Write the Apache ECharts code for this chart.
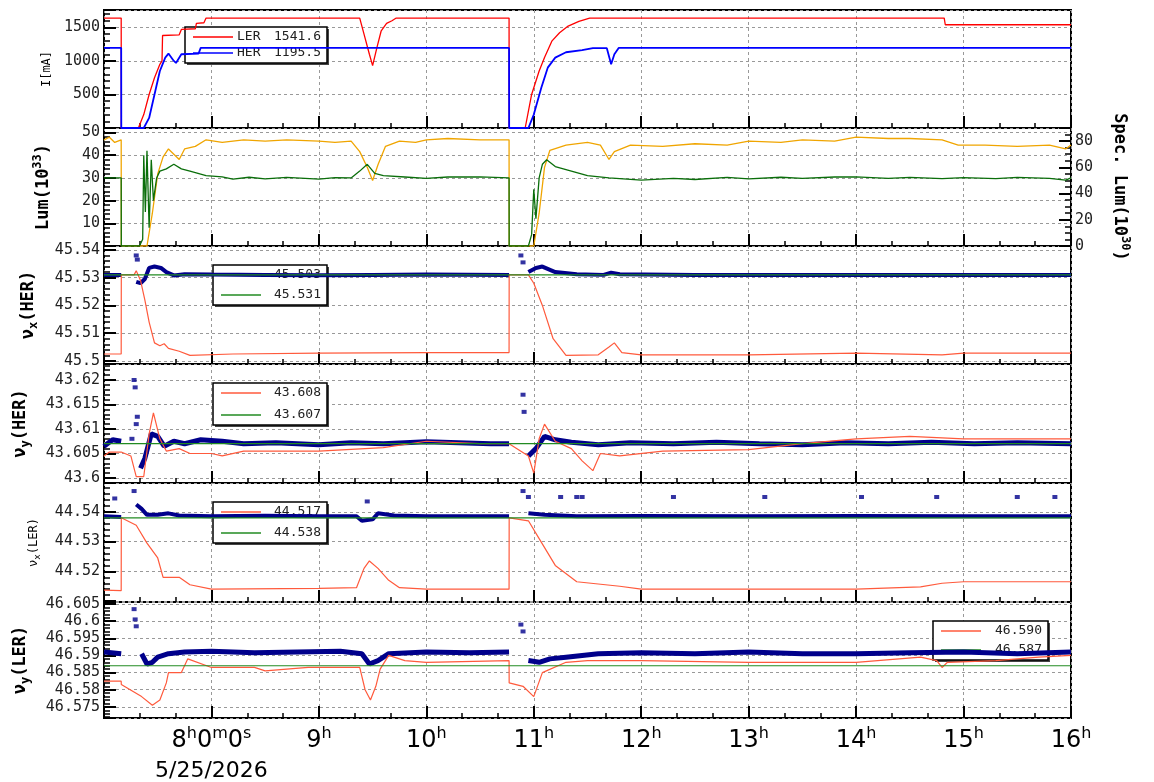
<!DOCTYPE html>
<html><head><meta charset="utf-8">
<script src="https://cdn.jsdelivr.net/npm/echarts@6/dist/echarts.min.js"></script>
<style>html,body{margin:0;padding:0;background:#fff}#c{width:1154px;height:782px}</style>
</head><body><div id="c"></div>
<script>
// ---------- DATA (time in hours, value) ----------
const dateLabel = '5/25/2026';

const lerCurrent = [[7.0,1640],[7.16,1640],[7.161,0],[7.32,0],[7.37,200],[7.42,500],[7.47,750],[7.52,950],[7.54,1000],[7.545,1380],[7.7,1390],[7.72,1470],[7.85,1480],[7.86,1560],[7.93,1570],[7.95,1640],[9.38,1640],[9.42,1400],[9.47,1100],[9.5,930],[9.54,1200],[9.58,1450],[9.63,1560],[9.68,1600],[9.72,1640],[10.77,1640],[10.771,0],[10.92,0],[10.98,500],[11.05,850],[11.1,1050],[11.17,1300],[11.24,1420],[11.32,1520],[11.42,1590],[11.52,1640],[14.82,1640],[14.83,1540],[16,1540]];
const herCurrent = [[7.0,1195],[7.16,1195],[7.161,0],[7.37,0],[7.42,150],[7.47,500],[7.52,850],[7.57,1050],[7.6,1110],[7.65,1000],[7.67,970],[7.72,1100],[7.88,1110],[7.9,1195],[10.77,1195],[10.771,0],[10.95,0],[11.0,200],[11.07,600],[11.13,900],[11.2,1050],[11.3,1130],[11.45,1160],[11.55,1190],[11.68,1190],[11.72,950],[11.75,1100],[11.79,1195],[16,1195]];

const lumGreen = [[7.0,30],[7.16,30],[7.161,0],[7.33,0],[7.36,3],[7.37,40],[7.385,15],[7.4,42],[7.42,8],[7.44,38],[7.46,20],[7.49,30],[7.52,33],[7.58,34],[7.65,36],[7.72,34],[7.8,33],[7.95,31],[8.1,30.5],[8.2,29.5],[8.35,30.3],[8.5,29.6],[8.7,30.2],[9.0,29.5],[9.15,30.1],[9.3,30],[9.38,33],[9.45,36],[9.52,32],[9.6,31],[9.8,30.4],[10.0,29.8],[10.2,30.4],[10.5,30.5],[10.77,30],[10.771,0],[10.95,0],[10.98,5],[11.0,25],[11.02,12],[11.05,30],[11.08,36],[11.12,38],[11.2,35],[11.35,33],[11.5,31],[11.7,30],[12.0,29],[12.3,29.8],[12.5,29.3],[12.8,30.2],[13.0,29.6],[13.3,30.3],[13.5,29.8],[13.8,30.4],[14.0,30.5],[14.3,29.8],[14.5,30.2],[14.8,29.7],[15.0,30.1],[15.3,29.7],[15.5,30.2],[15.8,29.8],[15.95,29],[16,30]];
const specLumOrange = [[7.0,81],[7.05,83],[7.1,79],[7.16,81],[7.161,0],[7.4,0],[7.45,25],[7.5,55],[7.55,68],[7.6,74],[7.65,70],[7.7,66],[7.75,74],[7.85,76],[7.95,81],[8.1,79],[8.3,81],[8.5,80],[8.7,81],[9.0,80],[9.15,79],[9.3,80],[9.38,72],[9.45,60],[9.5,50],[9.55,62],[9.62,76],[9.75,80],[9.9,79],[10.0,81],[10.2,82],[10.5,81],[10.77,81],[10.771,0],[11.0,0],[11.05,25],[11.1,60],[11.15,73],[11.3,77],[11.5,79],[11.62,77],[11.7,66],[11.75,72],[11.9,77],[12.2,76],[12.5,78],[12.8,77],[13.0,80],[13.3,79],[13.5,81],[13.8,80],[14.0,83],[14.3,82],[14.5,82],[14.8,81],[14.95,77],[15.2,77],[15.5,76],[15.8,77],[15.95,74],[16,77]];

const herNuxRed = [[7.0,45.5025],[7.16,45.5025],[7.161,45.531],[7.28,45.531],[7.3,45.5325],[7.34,45.529],[7.38,45.522],[7.42,45.514],[7.47,45.5065],[7.52,45.5055],[7.56,45.5062],[7.6,45.5045],[7.7,45.5035],[7.8,45.502],[8.2,45.5025],[9.0,45.5028],[10.0,45.503],[10.77,45.503],[10.771,45.531],[10.95,45.531],[11.0,45.528],[11.08,45.52],[11.18,45.508],[11.3,45.502],[11.6,45.5022],[11.7,45.505],[11.75,45.5065],[11.82,45.503],[12.0,45.5022],[13.0,45.5022],[14.0,45.5028],[14.8,45.5022],[15.0,45.5028],[16,45.5028]];
const herNuxRef = 45.531;
const herNuxBand = [[7.0,45.531],[7.16,45.531],null,[7.3,45.5285],[7.34,45.528],[7.38,45.5295],[7.42,45.5335],[7.47,45.534],[7.53,45.5335],[7.58,45.532],[7.65,45.5308],[7.75,45.5312],[8.0,45.5311],[8.5,45.531],[9.0,45.5309],[9.5,45.531],[10.0,45.5311],[10.77,45.531],null,[10.95,45.532],[11.02,45.5335],[11.08,45.534],[11.2,45.532],[11.4,45.5312],[11.65,45.531],[11.72,45.5318],[11.8,45.5312],[12.5,45.531],[13.5,45.531],[14.5,45.531],[15.5,45.531],[16,45.531]];
const herNuxOut = [[7.3,45.538],[7.31,45.5365],[10.88,45.538],[10.9,45.5355]];

const herNuyRed = [[7.0,43.6045],[7.05,43.6053],[7.16,43.6053],[7.25,43.6045],[7.3,43.6003],[7.37,43.6003],[7.42,43.609],[7.46,43.6133],[7.52,43.608],[7.58,43.6055],[7.7,43.606],[7.8,43.605],[8.0,43.605],[8.1,43.6045],[8.3,43.6055],[9.0,43.6055],[9.6,43.6062],[10.0,43.6075],[10.5,43.607],[10.77,43.607],[10.95,43.6045],[11.0,43.601],[11.05,43.608],[11.1,43.611],[11.2,43.6075],[11.35,43.606],[11.45,43.6035],[11.55,43.6015],[11.62,43.605],[11.8,43.6045],[12.2,43.6055],[13.0,43.6058],[13.5,43.607],[14.0,43.608],[14.5,43.6085],[15.0,43.608],[16,43.608]];
const herNuyRef = 43.607;
const herNuyBand = [[7.0,43.6065],[7.08,43.6078],[7.16,43.6075],null,[7.34,43.602],[7.38,43.604],[7.44,43.609],[7.5,43.6085],[7.56,43.6065],[7.65,43.6075],[7.75,43.607],[7.9,43.6078],[8.1,43.6075],[8.3,43.607],[8.6,43.6072],[9.0,43.6068],[9.3,43.6072],[9.6,43.607],[10.0,43.6074],[10.3,43.6072],[10.6,43.607],[10.77,43.607],null,[10.95,43.6045],[11.02,43.606],[11.1,43.6085],[11.2,43.6078],[11.35,43.6073],[11.6,43.6068],[11.9,43.6072],[12.3,43.607],[12.7,43.6073],[13.1,43.607],[13.5,43.6068],[13.9,43.6072],[14.3,43.607],[14.7,43.6073],[15.1,43.607],[15.5,43.6072],[16,43.607]];
const herNuyOut = [[7.28,43.62],[7.29,43.6185],[7.3,43.611],[7.31,43.6125],[7.26,43.608],[10.9,43.617],[10.91,43.6135]];

const lerNuxRed = [[7.0,44.5137],[7.16,44.5135],[7.161,44.538],[7.3,44.5355],[7.4,44.5295],[7.5,44.5245],[7.55,44.518],[7.7,44.518],[7.8,44.5155],[8.0,44.514],[9.0,44.5143],[9.35,44.5145],[9.42,44.521],[9.47,44.5235],[9.55,44.521],[9.65,44.517],[9.75,44.5145],[10.0,44.514],[10.77,44.514],[10.771,44.538],[10.95,44.537],[11.05,44.531],[11.2,44.522],[11.4,44.5165],[11.8,44.515],[12.0,44.514],[14.0,44.514],[14.6,44.5148],[14.8,44.516],[15.0,44.5165],[16,44.5165]];
const lerNuxRef = 44.538;
const lerNuxBand = [[7.0,44.5385],[7.16,44.5383],null,[7.3,44.5425],[7.35,44.541],[7.4,44.539],[7.5,44.539],[7.6,44.5395],[7.7,44.5388],[8.0,44.5385],[8.5,44.5387],[9.0,44.5385],[9.35,44.5385],[9.4,44.537],[9.5,44.5375],[9.55,44.5395],[9.7,44.5388],[10.0,44.5385],[10.77,44.5385],null,[10.95,44.5395],[11.1,44.539],[11.4,44.5385],[12.0,44.5386],[13.0,44.5385],[14.0,44.5386],[15.0,44.5385],[16,44.5385]];
const lerNuxOut = [[7.1,44.5445],[7.28,44.547],[9.45,44.5435],[10.9,44.547],[10.95,44.545],[11.25,44.545],[11.4,44.545],[11.45,44.545],[12.3,44.545],[13.15,44.545],[14.05,44.545],[14.75,44.545],[15.5,44.545],[15.85,44.545]];

const lerNuyRed = [[7.0,46.5825],[7.16,46.5825],[7.161,46.5815],[7.35,46.578],[7.45,46.5755],[7.52,46.577],[7.58,46.582],[7.6,46.585],[7.72,46.585],[7.78,46.589],[8.0,46.5865],[8.4,46.5865],[8.5,46.5855],[8.9,46.5865],[9.38,46.5865],[9.43,46.58],[9.48,46.577],[9.53,46.581],[9.57,46.586],[9.65,46.59],[9.8,46.5885],[10.0,46.588],[10.77,46.5885],[10.771,46.582],[10.9,46.581],[11.0,46.578],[11.08,46.585],[11.3,46.588],[11.5,46.5885],[12.0,46.5885],[13.0,46.588],[14.0,46.588],[14.6,46.5895],[14.75,46.5885],[14.8,46.5865],[14.85,46.588],[15.3,46.5885],[15.7,46.5895],[16,46.590]];
const lerNuyRef = 46.587;
const lerNuyBand = [[7.0,46.591],[7.16,46.5905],null,[7.35,46.5905],[7.4,46.5875],[7.45,46.588],[7.5,46.5895],[7.6,46.5905],[7.75,46.591],[8.0,46.5912],[8.4,46.5908],[8.8,46.591],[9.2,46.5912],[9.4,46.5905],[9.47,46.5875],[9.55,46.5885],[9.65,46.5905],[10.0,46.591],[10.4,46.5908],[10.77,46.591],null,[10.95,46.5885],[11.05,46.588],[11.15,46.589],[11.3,46.5895],[11.6,46.5905],[12.0,46.5908],[12.5,46.5905],[13.0,46.591],[13.5,46.5905],[14.0,46.5905],[14.5,46.5908],[15.0,46.591],[15.5,46.5905],[16,46.591]];
const lerNuyOut = [[7.28,46.6035],[7.29,46.6005],[7.3,46.5985],[10.88,46.599],[10.9,46.597]];

// legend values
const legCur = [['LER','1541.6'],['HER','1195.5']];
const leg3 = ['45.503','45.531'];
const leg4 = ['43.608','43.607'];
const leg5 = ['44.517','44.538'];
const leg6 = ['46.590','46.587'];

// ---------- CHART ----------
const FONT = 'DejaVu Sans Mono';
const tops = [10,128,246,364,483,602];
const hts  = [118,118,118,119,119,117];
const grids = tops.map((t,i)=>({left:104,right:83,top:t,height:hts[i],show:true,borderColor:'#000',borderWidth:2,backgroundColor:'transparent'}));

function xAx(i){
  const bottom = i===5;
  return {type:'value',gridIndex:i,min:7,max:16,interval:1,
    axisLine:{show:false},
    axisTick:{show:true,inside:true,length:12,lineStyle:{color:'#000',width:2}},
    minorTick:{show:true,splitNumber:3,length:5,lineStyle:{color:'#000',width:1.5}},
    splitLine:{show:true,lineStyle:{color:'#999',type:[3,3]}},
    axisLabel:{show:bottom,margin:8,fontFamily:'DejaVu Sans',color:'#000',
      formatter:function(v){ if(v===7) return ''; if(v===8) return '{b|8}{s|h}{b|0}{s|m}{b|0}{s|s}\n{d|'+dateLabel+'}'; return '{b|'+v+'}{s|h}';},
      rich:{b:{fontSize:24,fontFamily:'DejaVu Sans',color:'#000'},s:{fontSize:16,fontFamily:'DejaVu Sans',color:'#000',padding:[0,0,14,0]},d:{fontSize:22,fontFamily:'DejaVu Sans',color:'#000',padding:[4,0,0,0]}}}
  };
}
function fmt(step,hideMin,min){return function(v){ if(hideMin && Math.abs(v-min)<step*0.3) return ''; const r=Math.round(v/step); if(Math.abs(v-r*step)>step*1e-3) return ''; return String(+(r*step).toFixed(4));};}
function yAx(i,min,max,split,step,name,nameGap,rich,hideMin,extra){
  return Object.assign({type:'value',gridIndex:i,min:min,max:max,splitNumber:split,scale:true,
    axisLine:{show:false},
    axisTick:{show:true,inside:true,length:12,lineStyle:{color:'#000',width:2}},
    minorTick:{show:true,splitNumber:5,length:6,lineStyle:{color:'#000',width:1.5}},
    splitLine:{show:true,lineStyle:{color:'#999',type:[3,3]}},
    axisLabel:{fontFamily:FONT,fontSize:15,color:'#222',margin:4,formatter:fmt(step,hideMin,min)},
    name:name,nameLocation:'middle',nameRotate:90,nameGap:nameGap,
    nameTextStyle:{rich:rich}},extra||{});
}
const bold={b:{fontFamily:FONT,fontSize:17,fontWeight:'bold',color:'#000'},sb:{fontFamily:FONT,fontSize:12,fontWeight:'bold',color:'#000',padding:[10,0,0,0]},sp:{fontFamily:FONT,fontSize:12,fontWeight:'bold',color:'#000',padding:[0,0,12,0]}};
const small={n:{fontFamily:FONT,fontSize:12,color:'#000'},sn:{fontFamily:FONT,fontSize:9,color:'#000',padding:[8,0,0,0]}};

const yAxes=[
  yAx(0,0,1760,4,500,'{n|I[mA]}',40,small,true),
  yAx(1,0,52,5,10,'{b|Lum(10}{sp|33}{b|)}',48,bold,true),
  yAx(1,0,90,4,20,'{b|Spec. Lum(10}{sp|30}{b|)}',36,bold,false,{position:'right',nameRotate:-90,splitLine:{show:false},minorTick:{show:true,splitNumber:4,length:6,lineStyle:{color:'#000',width:1.5}}}),
  yAx(2,45.4989,45.5414,4,0.01,'{b|ν}{sb|x}{b|(HER)}',64,bold,false),
  yAx(3,43.59898,43.62327,5,0.005,'{b|ν}{sb|y}{b|(HER)}',72,bold,false),
  yAx(4,44.5097,44.5497,4,0.01,'{n|ν}{sn|x}{n|(LER)}',62,small,true),
  yAx(5,46.57176,46.60558,7,0.005,'{b|ν}{sb|y}{b|(LER)}',72,bold,false)
];
const xAxes=[0,1,2,3,4,5].map(xAx);

function line(xi,yi,data,color,w){return {type:'line',xAxisIndex:xi,yAxisIndex:yi,data:data,showSymbol:false,symbol:'none',connectNulls:false,lineStyle:{color:color,width:w||1},z:5,animation:false,silent:true};}
function refLine(xi,yi,v){return line(xi,yi,[[7,v],[16,v]],'#228b22',1.2);}
function band(xi,yi,data,w){return line(xi,yi,data,'#00008b',w);}
function dots(xi,yi,data){return {type:'scatter',xAxisIndex:xi,yAxisIndex:yi,data:data,symbol:'rect',symbolSize:[5,4],itemStyle:{color:'#00008b'},z:6,animation:false,silent:true};}
const RED='#ff5a3c';
const series=[
  line(0,0,lerCurrent,'#ff0000',1.3), line(0,0,herCurrent,'#0000ff',1.8),
  line(1,2,specLumOrange,'#f0a500',1.3), line(1,1,lumGreen,'#0a6e0a',1.3),
  band(2,3,herNuxBand,4), line(2,3,herNuxRed,RED,1.2), refLine(2,3,herNuxRef), dots(2,3,herNuxOut),
  band(3,4,herNuyBand,5), line(3,4,herNuyRed,RED,1.2), refLine(3,4,herNuyRef), dots(3,4,herNuyOut),
  band(4,5,lerNuxBand,4), line(4,5,lerNuxRed,RED,1.2), refLine(4,5,lerNuxRef), dots(4,5,lerNuxOut),
  band(5,6,lerNuyBand,5), line(5,6,lerNuyRed,RED,1.2), refLine(5,6,lerNuyRef), dots(5,6,lerNuyOut)
];

function legendBox(x,y,w,h,rows,colors){
  const els=[{type:'rect',z:1,shape:{x:x+2,y:y+2,width:w,height:h},style:{fill:'#444'}},
             {type:'rect',z:1,shape:{x:x,y:y,width:w,height:h},style:{fill:'#fff',stroke:'#000',lineWidth:1.5}}];
  rows.forEach((r,k)=>{const yy=y+10+k*(h-20);
    els.push({type:'line',z:1,shape:{x1:x+8,y1:yy,x2:x+48,y2:yy},style:{stroke:colors[k],lineWidth:1.3}});
    if(r[0]) els.push({type:'text',z:1,x:x+52,y:yy,style:{text:r[0],fill:'#222',font:'13px '+FONT,align:'left',verticalAlign:'middle'}});
    els.push({type:'text',z:1,x:x+w-6,y:yy,style:{text:r[1],fill:'#222',font:'13px '+FONT,align:'right',verticalAlign:'middle'}});
  });
  return els;
}
const G=['#ff5a3c','#228b22'];
const graphic=[].concat(
  legendBox(185,27,142,36,legCur,['#ff0000','#0000ff']),
  legendBox(213,265,114,40,leg3.map(v=>['',v]),G),
  legendBox(213,383,114,42,leg4.map(v=>['',v]),G),
  legendBox(213,502,114,41,leg5.map(v=>['',v]),G),
  legendBox(933,621,115,39,leg6.map(v=>['',v]),G)
);

const chart=echarts.init(document.getElementById('c'),null,{renderer:'canvas'});
chart.setOption({animation:false,backgroundColor:'#fff',grid:grids,xAxis:xAxes,yAxis:yAxes,series:series,graphic:graphic});
</script></body></html>
